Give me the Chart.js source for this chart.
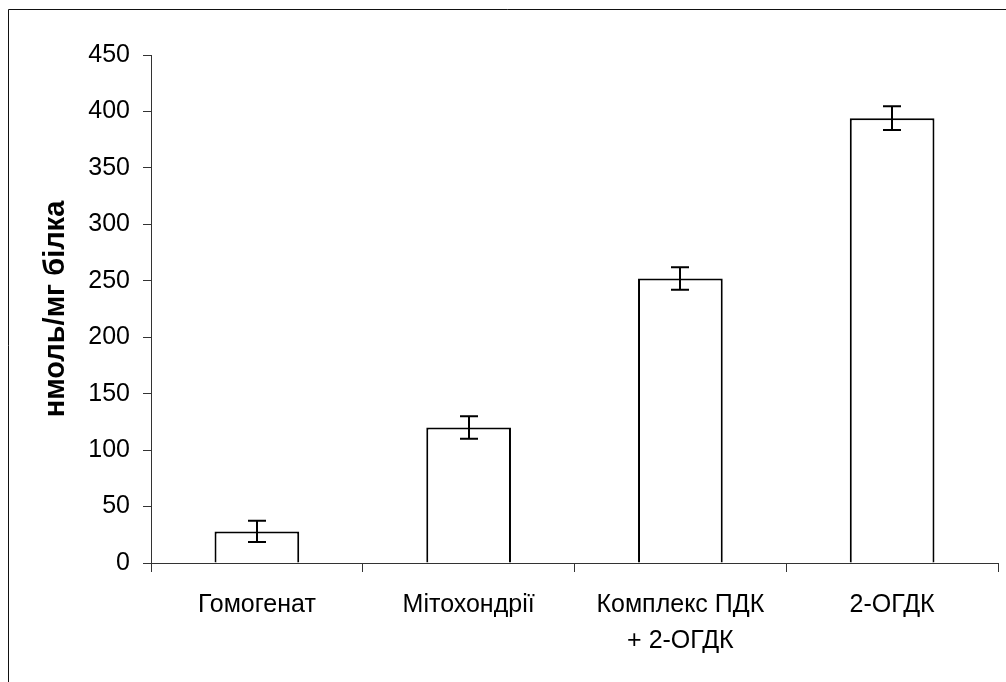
<!DOCTYPE html>
<html>
<head>
<meta charset="utf-8">
<script src="https://cdn.jsdelivr.net/npm/chart.js@4.4.1/dist/chart.umd.min.js"></script>
<style>
  html, body { margin: 0; padding: 0; background: #fff; }
  #wrap { width: 1006px; height: 682px; }
</style>
</head>
<body>
<div id="wrap"><canvas id="c" width="1006" height="682"></canvas></div>
<script>
// Activity per fraction, nmol per mg protein
const categories = ['Гомогенат', 'Мітохондрії', ['Комплекс ПДК', '+ 2-ОГДК'], '2-ОГДК'];
const means = [28, 120, 252, 394];
const errors = [9.5, 10, 10, 10.5];
const yTicks = [0, 50, 100, 150, 200, 250, 300, 350, 400, 450];
const yTitle = 'нмоль/мг білка';

const FONT = "'Liberation Sans', Arial, sans-serif";

// white page with a frame along the top and left edges
const pagePlugin = {
  id: 'page',
  beforeDraw(chart) {
    const ctx = chart.ctx;
    ctx.save();
    ctx.fillStyle = '#fff';
    ctx.fillRect(0, 0, chart.width, chart.height);
    ctx.restore();
  },
  afterDraw(chart) {
    const ctx = chart.ctx;
    ctx.save();
    ctx.strokeStyle = '#111';
    ctx.lineWidth = 1;
    ctx.beginPath();
    ctx.moveTo(8.5, chart.height);
    ctx.lineTo(8.5, 9.5);
    ctx.lineTo(chart.width, 9.5);
    ctx.stroke();
    ctx.restore();
  }
};

// standard-error whiskers on top of each bar
const errorBarPlugin = {
  id: 'errorBars',
  afterDatasetsDraw(chart) {
    const ctx = chart.ctx;
    const y = chart.scales.y;
    const meta = chart.getDatasetMeta(0);
    ctx.save();
    ctx.strokeStyle = '#000';
    ctx.lineWidth = 2;
    meta.data.forEach((bar, i) => {
      const x = Math.round(bar.x);
      const top = y.getPixelForValue(means[i] + errors[i]);
      const bot = y.getPixelForValue(means[i] - errors[i]);
      const half = 9;
      ctx.beginPath();
      ctx.moveTo(x, top); ctx.lineTo(x, bot);
      ctx.moveTo(x - half, top); ctx.lineTo(x + half, top);
      ctx.moveTo(x - half, bot); ctx.lineTo(x + half, bot);
      ctx.stroke();
    });
    ctx.restore();
  }
};

new Chart(document.getElementById('c'), {
  type: 'bar',
  data: {
    labels: categories,
    datasets: [{
      data: means,
      backgroundColor: '#fff',
      borderColor: '#000',
      borderWidth: 2,
      categoryPercentage: 1,
      barPercentage: 0.4
    }]
  },
  options: {
    responsive: false,
    animation: false,
    events: [],
    layout: { padding: { top: 55, right: 8, bottom: 0, left: 0 } },
    plugins: { legend: { display: false }, tooltip: { enabled: false } },
    scales: {
      x: {
        offset: true,
        grid: {
          offset: true,
          drawOnChartArea: false,
          drawTicks: true,
          tickLength: 9,
          color: '#333'
        },
        border: { display: true, color: '#333', width: 1 },
        ticks: {
          color: '#000',
          padding: 15,
          maxRotation: 0,
          autoSkip: false,
          font: { family: FONT, size: 25, lineHeight: 1.44 }
        },
        afterFit(scale) { scale.height = 119; }
      },
      y: {
        min: 0,
        max: 450,
        afterBuildTicks(scale) { scale.ticks = yTicks.map(v => ({ value: v })); },
        grid: {
          drawOnChartArea: false,
          drawTicks: true,
          tickLength: 8,
          color: '#333'
        },
        border: { display: true, color: '#333', width: 1 },
        ticks: {
          color: '#000',
          padding: 13,
          font: { family: FONT, size: 25 }
        },
        title: {
          display: true,
          text: yTitle,
          color: '#000',
          padding: { top: 39, bottom: 0 },
          font: { family: FONT, size: 29, weight: 'bold' }
        },
        afterFit(scale) { scale.width = 151; }
      }
    }
  },
  plugins: [pagePlugin, errorBarPlugin]
});
</script>
</body>
</html>
